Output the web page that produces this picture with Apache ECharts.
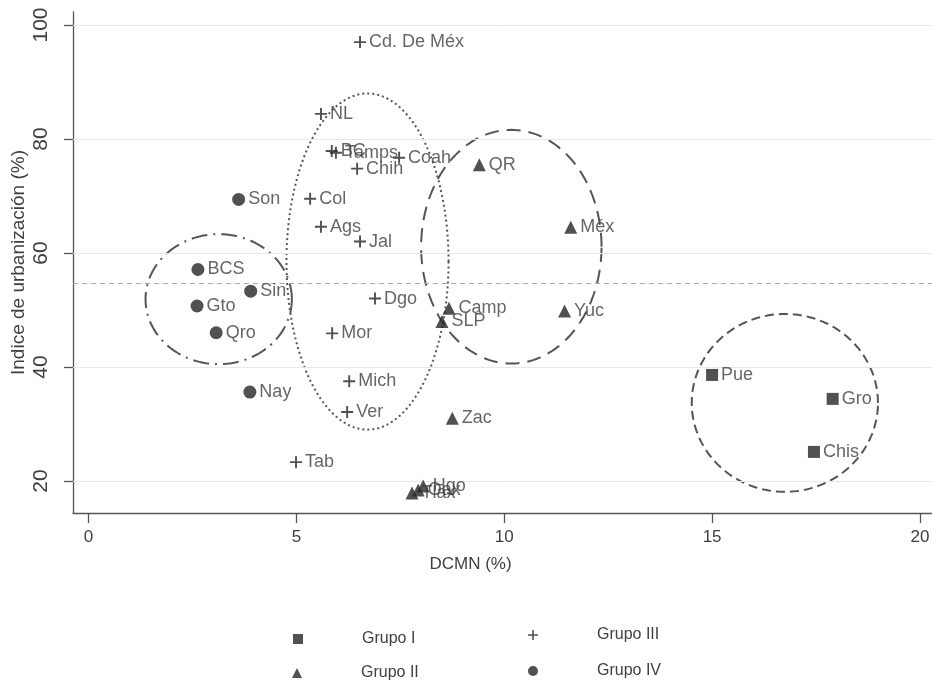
<!DOCTYPE html>
<html>
<head>
<meta charset="utf-8">
<script src="https://cdn.jsdelivr.net/npm/echarts@6/dist/echarts.min.js"></script>
<style>html,body{margin:0;padding:0;background:#fff;}#c{width:932px;height:686px;}</style>
</head>
<body>
<div id="c"></div>
<script>
// ---- data ----
const xTicks = [0, 5, 10, 15, 20];
const yTicks = [20, 40, 60, 80, 100];
const meanUrban = 54.7;

const g1Names = ['Pue', 'Gro', 'Chis'];
const g1X = [15.0, 17.9, 17.45];
const g1Y = [38.6, 34.4, 25.1];

const g2Names = ['QR', 'Méx', 'Camp', 'SLP', 'Yuc', 'Zac', 'Hgo', 'Oax', 'Tlax'];
const g2X = [9.4, 11.6, 8.67, 8.5, 11.45, 8.75, 8.05, 7.93, 7.78];
const g2Y = [75.5, 64.5, 50.3, 48.0, 49.8, 31.0, 19.1, 18.4, 17.9];

const g3Names = ['Cd. De Méx', 'NL', 'BC', 'Tamps', 'Chih', 'Coah', 'Col', 'Ags', 'Jal', 'Dgo', 'Mor', 'Mich', 'Ver', 'Tab'];
const g3X = [6.53, 5.59, 5.85, 5.95, 6.46, 7.47, 5.33, 5.59, 6.53, 6.89, 5.86, 6.27, 6.22, 4.99];
const g3Y = [97.0, 84.4, 77.9, 77.6, 74.8, 76.7, 69.5, 64.6, 62.0, 52.0, 45.9, 37.5, 32.1, 23.3];

const g4Names = ['Son', 'BCS', 'Sin', 'Gto', 'Qro', 'Nay'];
const g4X = [3.61, 2.63, 3.9, 2.61, 3.07, 3.88];
const g4Y = [69.4, 57.1, 53.3, 50.7, 46.0, 35.6];

// ellipses: [centerX, centerY, radiusX, radiusY] in data units
const ellipseIV = [3.13, 51.9, 1.76, 11.4];
const ellipseIII = [6.71, 58.5, 1.95, 29.5];
const ellipseII = [10.17, 61.1, 2.17, 20.5];
const ellipseI = [16.75, 33.7, 2.24, 15.6];

// ---- chart ----
const font = 'Liberation Sans, Arial, Helvetica, sans-serif';
const ink = '#262626';
const txt = '#404040';
const plusPath = 'path://M4.2,0h1.6v4.2h4.2v1.6h-4.2v4.2h-1.6v-4.2h-4.2v-1.6h4.2z';

function pts(names, xs, ys) {
  return names.map((n, i) => ({ name: n, value: [xs[i], ys[i]] }));
}
const labelCfg = { show: true, position: 'right', distance: 3, formatter: '{b}', color: txt, fontSize: 18, fontFamily: font };

function ellipseSeries(e, dash, width) {
  return {
    type: 'custom',
    silent: true,
    data: [e],
    renderItem: function (params, api) {
      const cx = api.value(0), cy = api.value(1), rx = api.value(2), ry = api.value(3);
      const points = [];
      for (let k = 0; k < 180; k++) {
        const t = k / 180 * Math.PI * 2;
        points.push(api.coord([cx + rx * Math.cos(t), cy + ry * Math.sin(t)]));
      }
      return {
        type: 'polygon',
        shape: { points: points },
        style: { fill: 'none', stroke: '#555', lineWidth: width, lineDash: dash }
      };
    },
    z: 1
  };
}

function legendItem(name, left, top) {
  return {
    left: left, top: top, itemWidth: 10, itemHeight: 10,
    data: [name],
    textStyle: { color: txt, fontSize: 16, fontFamily: font, padding: [4, 0, 0, 54] }
  };
}

const chart = echarts.init(document.getElementById('c'), null, { renderer: 'canvas' });
chart.setOption({
  animation: false,
  backgroundColor: '#fff',
  textStyle: { fontFamily: font },
  grid: { left: 73, right: 0, top: 12, bottom: 173, containLabel: false, outerBoundsMode: 'none' },
  xAxis: {
    type: 'value', min: -0.375, max: 20.29,
    name: 'DCMN (%)', nameLocation: 'middle', nameGap: 43, nameMoveOverlap: false,
    nameTextStyle: { color: txt, fontSize: 17, fontFamily: font, padding: [0, 64, 0, 0] },
    axisLine: { onZero: false, lineStyle: { color: '#555', width: 1.3 } },
    axisTick: { customValues: xTicks, length: 10, lineStyle: { color: '#555', width: 1.3 } },
    axisLabel: { customValues: xTicks, color: txt, fontSize: 17, margin: 16, fontFamily: font },
    splitLine: { show: false }
  },
  yAxis: {
    type: 'value', min: 14.38, max: 102.28,
    name: 'Indice de urbanización (%)', nameLocation: 'middle', nameGap: 45, nameMoveOverlap: false,
    nameTextStyle: { color: txt, fontSize: 19, fontFamily: font },
    axisLine: { show: true, onZero: false, lineStyle: { color: '#555', width: 1.3 } },
    axisTick: { show: true, customValues: yTicks, length: 9, lineStyle: { color: '#555', width: 1.3 } },
    axisLabel: { customValues: yTicks, rotate: 90, color: txt, fontSize: 21, margin: 21, fontFamily: font },
    splitLine: { show: false }
  },
  legend: [
    legendItem('Grupo I', 288, 626),
    legendItem('Grupo II', 287, 660),
    legendItem('Grupo III', 523, 622),
    legendItem('Grupo IV', 523, 658)
  ],
  series: [
    {
      name: 'Grupo I', type: 'scatter', symbol: 'rect', symbolSize: 12,
      itemStyle: { color: ink }, label: labelCfg, data: pts(g1Names, g1X, g1Y), z: 5,
      markLine: {
        silent: true, symbol: 'none', label: { show: false },
        lineStyle: { color: '#e8e8e8', type: 'solid', width: 1 },
        data: yTicks.map(v => ({ yAxis: v }))
      }
    },
    {
      name: 'Grupo II', type: 'scatter', symbol: 'triangle', symbolSize: 13,
      itemStyle: { color: ink }, label: labelCfg, data: pts(g2Names, g2X, g2Y), z: 5,
      markLine: {
        silent: true, symbol: 'none', label: { show: false },
        lineStyle: { color: '#aaa', type: [5, 4], width: 1.2 },
        data: [{ yAxis: meanUrban }]
      }
    },
    {
      name: 'Grupo III', type: 'scatter', symbol: plusPath, symbolSize: 12,
      itemStyle: { color: ink }, label: labelCfg, data: pts(g3Names, g3X, g3Y), z: 5
    },
    {
      name: 'Grupo IV', type: 'scatter', symbol: 'circle', symbolSize: 13,
      itemStyle: { color: ink }, label: labelCfg, data: pts(g4Names, g4X, g4Y), z: 5
    },
    ellipseSeries(ellipseIV, [16, 6, 2, 6], 2),
    ellipseSeries(ellipseIII, [2, 3], 2),
    ellipseSeries(ellipseII, [14, 8], 2),
    ellipseSeries(ellipseI, [9, 5], 2)
  ]
});
</script>
</body>
</html>
